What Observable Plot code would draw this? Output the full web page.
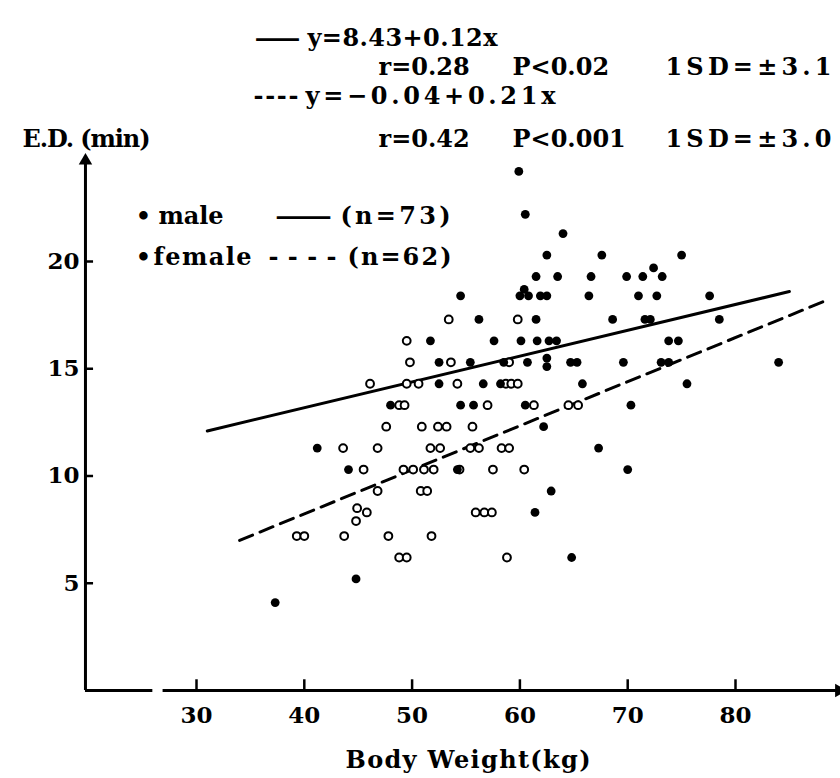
<!DOCTYPE html>
<html><head><meta charset="utf-8">
<script src="https://cdn.jsdelivr.net/npm/d3@7"></script>
<script src="https://cdn.jsdelivr.net/npm/@observablehq/plot@0.6"></script>
<style>body{margin:0;background:#fff} svg{display:block}</style>
</head><body><div id="chart"></div>
<script>
// ---- data ----
const maleWeight = [59.9, 60.5, 64.0,
  62.5, 67.6, 75.0,
  61.5, 63.5, 66.6, 69.9, 71.4, 73.2, 72.4,
  54.5, 60.0, 60.8, 61.9, 62.5, 66.4, 71.0, 72.7, 77.6, 60.4,
  56.2, 61.5, 68.6, 71.6, 72.1, 78.5,
  51.7, 57.6, 60.1, 61.6, 62.7, 63.4, 73.8, 74.7,
  52.5, 55.4, 58.5, 60.7, 64.7, 65.3, 69.6, 73.1, 73.8, 84.0, 62.5, 62.5,
  52.5, 56.6, 58.2, 65.8, 75.5,
  48.0, 54.5, 55.7, 60.5, 70.3,
  62.2, 41.2, 67.3, 44.1, 54.2, 70.0, 62.9, 61.4, 64.8, 44.8, 37.3];
const maleED = [24.2, 22.2, 21.3,
  20.3, 20.3, 20.3,
  19.3, 19.3, 19.3, 19.3, 19.3, 19.3, 19.7,
  18.4, 18.4, 18.4, 18.4, 18.4, 18.4, 18.4, 18.4, 18.4, 18.7,
  17.3, 17.3, 17.3, 17.3, 17.3, 17.3,
  16.3, 16.3, 16.3, 16.3, 16.3, 16.3, 16.3, 16.3,
  15.3, 15.3, 15.3, 15.3, 15.3, 15.3, 15.3, 15.3, 15.3, 15.3, 15.5, 15.1,
  14.3, 14.3, 14.3, 14.3, 14.3,
  13.3, 13.3, 13.3, 13.3, 13.3,
  12.3, 11.3, 11.3, 10.3, 10.3, 10.3, 9.3, 8.3, 6.2, 5.2, 4.1];

const femaleWeight = [53.4, 59.8, 49.5,
  49.8, 53.6, 59.0,
  46.1, 49.5, 50.6, 54.2, 58.7, 59.2, 59.8,
  48.8, 49.3, 57.0, 61.3, 64.5, 65.4,
  47.6, 50.9, 52.4, 53.2, 55.6,
  43.6, 46.8, 51.7, 52.6, 55.4, 56.2, 58.3, 59.0,
  45.5, 49.2, 50.1, 51.1, 52.0, 54.4, 57.5, 60.4,
  46.8, 50.8, 51.4,
  45.8, 55.9, 56.7, 57.4, 44.9, 44.8,
  39.3, 40.0, 43.7, 47.8, 51.8,
  48.8, 49.5, 58.8];
const femaleED = [17.3, 17.3, 16.3,
  15.3, 15.3, 15.3,
  14.3, 14.3, 14.3, 14.3, 14.3, 14.3, 14.3,
  13.3, 13.3, 13.3, 13.3, 13.3, 13.3,
  12.3, 12.3, 12.3, 12.3, 12.3,
  11.3, 11.3, 11.3, 11.3, 11.3, 11.3, 11.3, 11.3,
  10.3, 10.3, 10.3, 10.3, 10.3, 10.3, 10.3, 10.3,
  9.3, 9.3, 9.3,
  8.3, 8.3, 8.3, 8.3, 8.5, 7.9,
  7.2, 7.2, 7.2, 7.2, 7.2,
  6.2, 6.2, 6.2];

// regression line end points
const maleFitX = [31, 85];
const maleFitY = [12.1, 18.6];
const femaleFitX = [34, 88.5];
const femaleFitY = [7.0, 18.2];

const xTicks = [30, 40, 50, 60, 70, 80];
const yTicks = [5, 10, 15, 20];

const eqMale = "y=8.43+0.12x";
const statMale = ["r=0.28", "P<0.02", "1SD=±3.1"];
const eqFemale = "y=−0.04+0.21x";
const statFemale = ["r=0.42", "P<0.001", "1SD=±3.0"];
const yLabel = "E.D. (min)";
const xLabel = "Body Weight(kg)";
const legMale = ["male", "(n=73)"];
const legFemale = ["female", "(n=62)"];

// ---- build ----
const males = maleWeight.map((w, i) => ({w, ed: maleED[i]}));
const females = femaleWeight.map((w, i) => ({w, ed: femaleED[i]}));
const fitM = maleFitX.map((x, i) => ({x, y: maleFitY[i]}));
const fitF = femaleFitX.map((x, i) => ({x, y: femaleFitY[i]}));

const font = "'DejaVu Serif', 'Liberation Serif', serif";
const ML = 85;
const FS = 24;
const ROW1 = 38, ROW2 = 67, ROW3 = 96, ROW4 = 139, LEG1 = 216, LEG2 = 257;

const widthQueue = new Map(); // text content -> list of [width, adjust] in document order
function label(str, px, py, w, adjust = "spacing", anchor = "start") {
  if (!widthQueue.has(str)) widthQueue.set(str, []);
  widthQueue.get(str).push(w ? [w, adjust] : null);
  return Plot.text([str], {text: d => d, frameAnchor: "top-left", dx: px - ML, dy: py,
    textAnchor: anchor, lineAnchor: "middle", fontSize: FS, fontWeight: "bold", fill: "#000"});
}

const AX = 19.7; // x value where the y-axis sits

const marks = [
  // axis lines
  Plot.ruleX([AX], {y1: 0, y2: 24.6, stroke: "#000", strokeWidth: 3}),
  Plot.dot([{x: AX, y: 24.7}], {x: "x", y: "y", symbol: "triangle", r: 5, fill: "#000"}),
  Plot.ruleY([0], {x1: AX, x2: 25.95, stroke: "#000", strokeWidth: 3}),
  Plot.ruleY([0], {x1: 26.9, x2: 89.5, stroke: "#000", strokeWidth: 3}),
  Plot.dot([{x: 89.6, y: 0}], {x: "x", y: "y", symbol: "triangle", rotate: 90, r: 5, fill: "#000"}),
  Plot.ruleX(xTicks, {x: d => d, y1: 0, y2: 0.5, stroke: "#000", strokeWidth: 2.5}),
  Plot.ruleY(yTicks, {y: d => d, x1: AX, x2: 20.45, stroke: "#000", strokeWidth: 2.5}),
  Plot.axisX(xTicks, {tickSize: 0, tickPadding: 16, fontSize: 23, fontWeight: "bold", lineAnchor: "top"}),
  Plot.axisY(yTicks, {tickSize: 0, tickPadding: 6, fontSize: 23, fontWeight: "bold"}),
  // regression lines
  Plot.line(fitM, {x: "x", y: "y", stroke: "#000", strokeWidth: 3}),
  Plot.line(fitF, {x: "x", y: "y", stroke: "#000", strokeWidth: 3, strokeDasharray: "14,8"}),
  // points
  Plot.dot(females, {x: "w", y: "ed", r: 3.9, fill: "#fff", stroke: "#000", strokeWidth: 2}),
  Plot.dot(males, {x: "w", y: "ed", r: 4.4, fill: "#000"}),
  // header texts
  label("—", 253, ROW1, 48, "spacingAndGlyphs"),
  label(eqMale, 307, ROW1, 190),
  label(statMale[0], 378, ROW2),
  label(statMale[1], 512, ROW2),
  label(statMale[2], 665, ROW2, 166),
  label("----", 253, ROW3, 45),
  label(eqFemale, 305, ROW3, 250),
  label(yLabel, 22, ROW4, 128),
  label(statFemale[0], 378, ROW4),
  label(statFemale[1], 512, ROW4),
  label(statFemale[2], 665, ROW4, 166),
  // legend
  label("•", 143, LEG1, null, "spacing", "middle"),
  label(legMale[0], 158, LEG1, 65),
  label("—", 273, LEG1, 60, "spacingAndGlyphs"),
  label(legMale[1], 340, LEG1, 110),
  label("•", 143, LEG2, null, "spacing", "middle"),
  label(legFemale[0], 153, LEG2, 98),
  label("----", 268, LEG2, 68),
  label(legFemale[1], 347, LEG2, 104),
  // x title
  label(xLabel, 345, 760, 245)
];

const plot = Plot.plot({
  width: 840, height: 778,
  marginLeft: ML, marginRight: 0, marginTop: 0, marginBottom: 88,
  style: {fontFamily: font, background: "#fff", color: "#000", overflow: "visible"},
  x: {domain: [30, 80], range: [196, 735], label: null},
  y: {domain: [0, 20], range: [690, 261], label: null},
  marks
});

// fit text widths to the picture (texts are in document order of the marks)
plot.querySelectorAll("text").forEach(t => {
  const q = widthQueue.get(t.textContent);
  if (!q || !q.length) return;
  const spec = q.shift();
  if (!spec) return;
  t.setAttribute("textLength", spec[0]);
  t.setAttribute("lengthAdjust", spec[1]);
});
document.getElementById("chart").appendChild(plot);
</script>
</body></html>
